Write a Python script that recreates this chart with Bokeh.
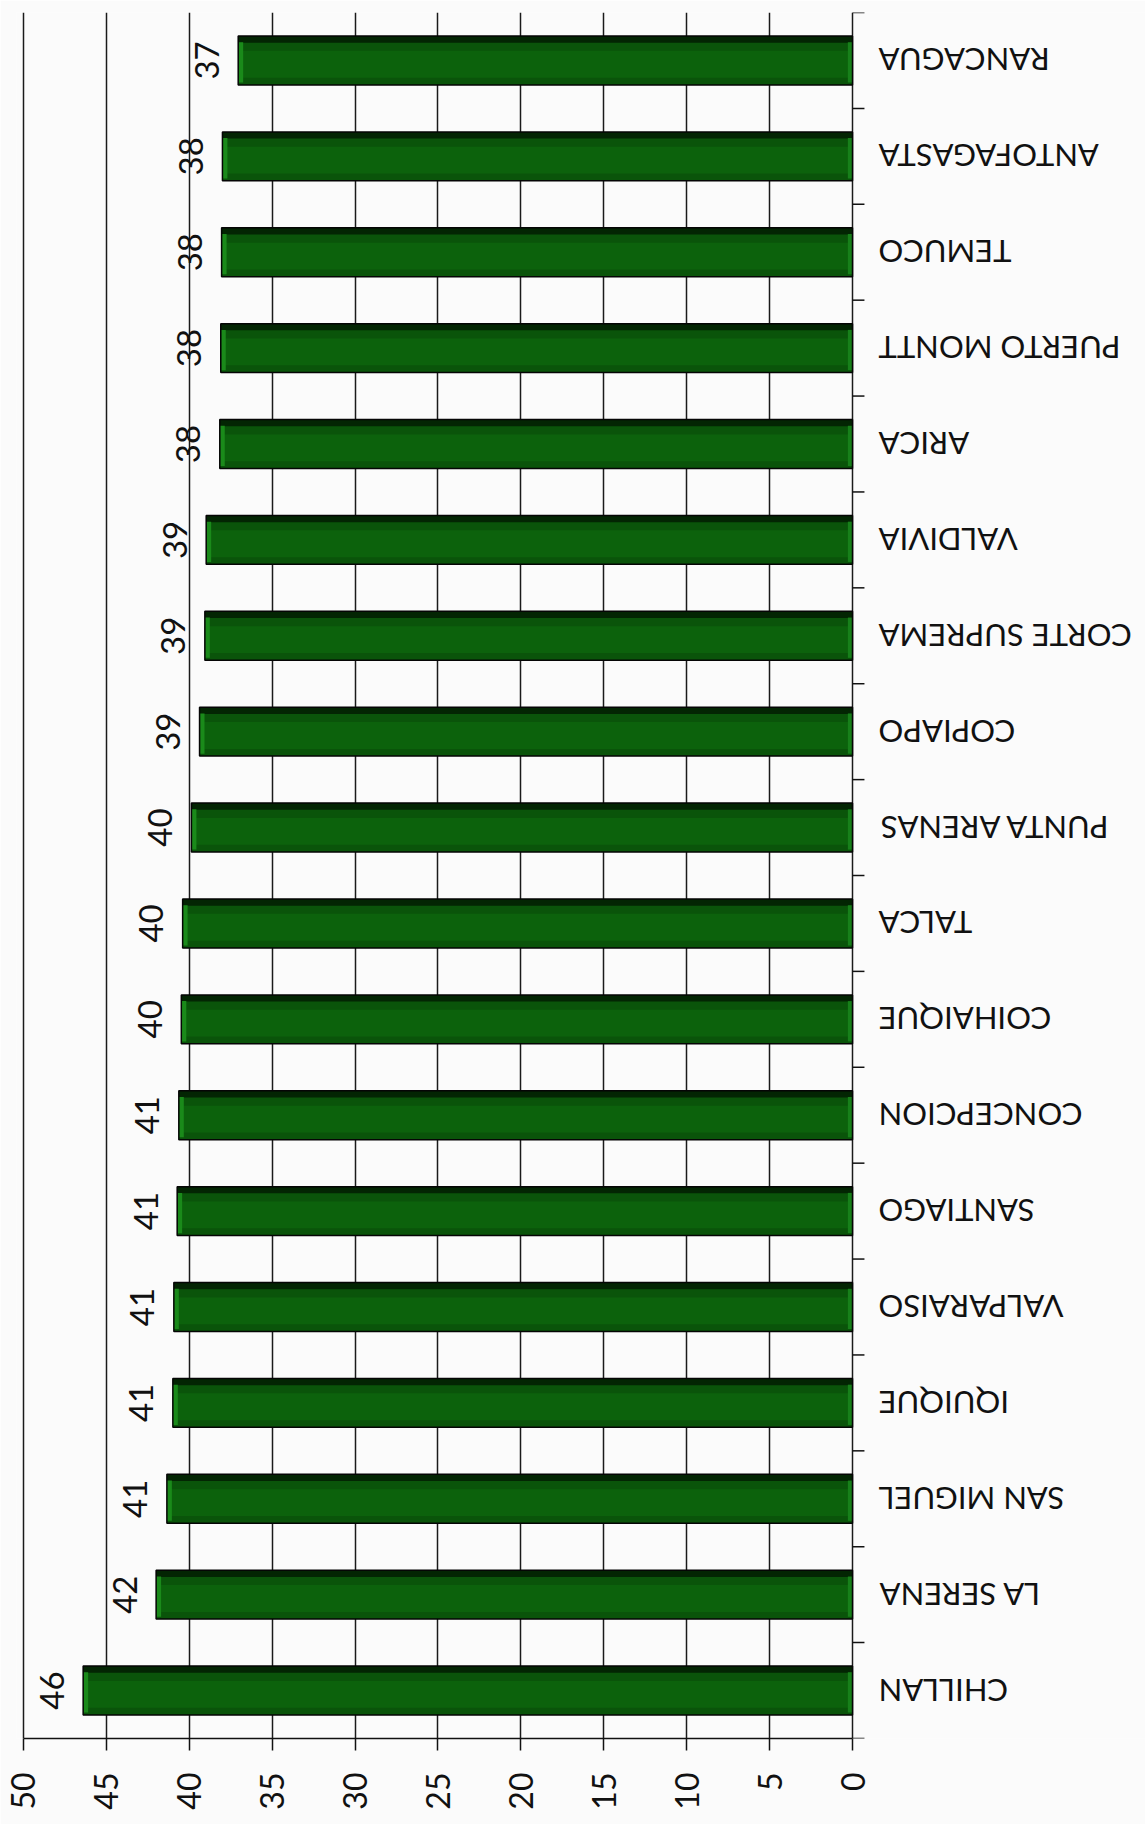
from math import pi
from bokeh.plotting import figure
from bokeh.models import ColumnDataSource, Range1d, FactorRange, FixedTicker
from bokeh.transform import dodge
from bokeh.core.properties import value
from bokeh.embed import file_html
from bokeh.resources import INLINE

# bottom -> top
categories = ["CHILLAN", "LA SERENA", "SAN MIGUEL", "IQUIQUE", "VALPARAISO",
              "SANTIAGO", "CONCEPCION", "COIHAIQUE", "TALCA", "PUNTA ARENAS",
              "COPIAPO", "CORTE SUPREMA", "VALDIVIA", "ARICA", "PUERTO MONTT",
              "TEMUCO", "ANTOFAGASTA", "RANCAGUA"]
values = [46.4, 42.0, 41.35, 40.99, 40.93, 40.73, 40.63, 40.48, 40.4, 39.87,
          39.38, 39.06, 38.98, 38.16, 38.1, 38.05, 38.0, 37.05]
labels = ["46", "42", "41", "41", "41", "41", "41", "40", "40", "40",
          "39", "39", "39", "38", "38", "38", "38", "37"]
value_ticks = [0, 5, 10, 15, 20, 25, 30, 35, 40, 45, 50]

BG = "#fbfbfb"
FONT = "Lato"

p = figure(width=1145, height=1824,
           x_range=Range1d(50.42, -17.67),
           y_range=FactorRange(factors=categories),
           output_backend="svg", toolbar_location=None,
           y_axis_location=None,
           min_border_left=16, min_border_right=0,
           min_border_top=12, min_border_bottom=86,
           background_fill_color=BG, border_fill_color=BG,
           outline_line_color=None)

# value axis (bottom)
ax = p.xaxis[0]
ax.ticker = FixedTicker(ticks=value_ticks)
ax.bounds = (0, 50)
ax.axis_line_color = "#111111"
ax.axis_line_width = 1.5
ax.major_tick_line_color = "#111111"
ax.major_tick_line_width = 1.5
ax.major_tick_in = 0
ax.major_tick_out = 12
ax.minor_tick_line_color = None
ax.major_label_orientation = pi / 2
ax.major_label_standoff = 22
ax.major_label_text_font = FONT
ax.major_label_text_font_size = "32px"
ax.major_label_text_color = "#111111"

p.xgrid.ticker = FixedTicker(ticks=value_ticks)
p.xgrid.grid_line_color = "#1a1a1a"
p.xgrid.grid_line_width = 1.5
p.ygrid.visible = False

src = ColumnDataSource(dict(cat=categories, v=values, lab=labels))
top_src = ColumnDataSource(dict(cat=[categories[-1]]))

# bars (layered to mimic the bevelled 3D look)
p.hbar(y="cat", left="v", right=0, height=0.51, source=src,
       fill_color="#0a540a", line_color=None)
p.hbar(y=dodge("cat", -0.04, range=p.y_range), left="v", right=0, height=0.28,
       source=src, fill_color="#0c620c", line_color=None)
p.hbar(y=dodge("cat", 0.22, range=p.y_range), left="v", right=0, height=0.07,
       source=src, fill_color="#032503", line_color=None)
p.hbar(y=dodge("cat", -0.02, range=p.y_range), left="v",
       right=dodge("v", -0.3), height=0.42, source=src,
       fill_color="#1a8a1a", line_color=None)
p.hbar(y=dodge("cat", -0.02, range=p.y_range), left=0.28, right=0,
       height=0.42, source=src, fill_color="#17801a", line_color=None)
p.hbar(y="cat", left="v", right=0, height=0.51, source=src,
       fill_color=None, line_color="#050505", line_width=1.5)

# category axis ticks (between categories)
p.segment(x0=0, x1=-0.72, y0=dodge("cat", -0.5, range=p.y_range),
          y1=dodge("cat", -0.5, range=p.y_range), source=src,
          line_color="#111111", line_width=1.5)
p.segment(x0=0, x1=-0.72, y0=dodge("cat", 0.5, range=p.y_range),
          y1=dodge("cat", 0.5, range=p.y_range), source=top_src,
          line_color="#111111", line_width=1.5)

# value labels
p.text(x=dodge("v", 1.9), y="cat", text="lab", source=src, angle=pi / 2,
       text_align="center", text_baseline="alphabetic",
       text_font=value(FONT), text_font_size="33px", text_color="#111111")

# category labels (upside down)
p.text(x=-1.57, y="cat", text="cat", source=src, angle=pi,
       text_align="right", text_baseline="middle",
       text_font=value(FONT), text_font_size="31px", text_color="#111111")

open("out.html", "w").write(file_html(p, INLINE))
